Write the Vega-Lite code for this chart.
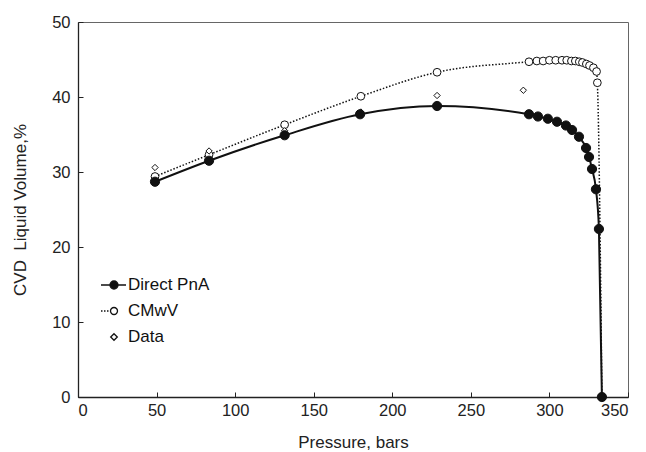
{
  "$schema": "https://vega.github.io/schema/vega-lite/v6.json",
  "autosize": {"type": "none"},
  "padding": {"left": 78, "top": 22, "right": 18, "bottom": 55},
  "width": 550,
  "height": 375,
  "config": {
    "font": "Liberation Sans",
    "view": {"stroke": "#666", "strokeWidth": 1},
    "axis": {
      "grid": false,
      "domainColor": "#222",
      "domainWidth": 1.3,
      "tickColor": "#222",
      "tickSize": -5,
      "labelFont": "Liberation Sans",
      "labelFontSize": 16.5,
      "labelColor": "#222",
      "titleFont": "Liberation Sans",
      "titleFontSize": 17,
      "titleFontWeight": "normal",
      "titleColor": "#222"
    }
  },
  "data": {
    "values": [
      {"series": "CMwV", "p": 49, "v": 29.4},
      {"series": "CMwV", "p": 83.4, "v": 32.3},
      {"series": "CMwV", "p": 131.5, "v": 36.3},
      {"series": "CMwV", "p": 180, "v": 40.1},
      {"series": "CMwV", "p": 228.5, "v": 43.3},
      {"series": "CMwV", "p": 287, "v": 44.7},
      {"series": "CMwV", "p": 292, "v": 44.8},
      {"series": "CMwV", "p": 296, "v": 44.8},
      {"series": "CMwV", "p": 300, "v": 44.9},
      {"series": "CMwV", "p": 304, "v": 44.9},
      {"series": "CMwV", "p": 308, "v": 44.9},
      {"series": "CMwV", "p": 311, "v": 44.9},
      {"series": "CMwV", "p": 314, "v": 44.8},
      {"series": "CMwV", "p": 316.5, "v": 44.8},
      {"series": "CMwV", "p": 319, "v": 44.7},
      {"series": "CMwV", "p": 321, "v": 44.6},
      {"series": "CMwV", "p": 323.5, "v": 44.4},
      {"series": "CMwV", "p": 325.5, "v": 44.2},
      {"series": "CMwV", "p": 328, "v": 43.9},
      {"series": "CMwV", "p": 330, "v": 43.4},
      {"series": "CMwV", "p": 330.5, "v": 41.9},
      {"series": "CMwV", "p": 333.4, "v": 0},
      {"series": "Data", "p": 49, "v": 30.6},
      {"series": "Data", "p": 83.4, "v": 32.8},
      {"series": "Data", "p": 131.5, "v": 35.5},
      {"series": "Data", "p": 180, "v": 38.0},
      {"series": "Data", "p": 228.5, "v": 40.2},
      {"series": "Data", "p": 283.4, "v": 40.9},
      {"series": "Direct PnA", "p": 49, "v": 28.7},
      {"series": "Direct PnA", "p": 83.4, "v": 31.5},
      {"series": "Direct PnA", "p": 131.5, "v": 34.9},
      {"series": "Direct PnA", "p": 179.5, "v": 37.7},
      {"series": "Direct PnA", "p": 228.5, "v": 38.8},
      {"series": "Direct PnA", "p": 287, "v": 37.7},
      {"series": "Direct PnA", "p": 292.7, "v": 37.4},
      {"series": "Direct PnA", "p": 299, "v": 37.1},
      {"series": "Direct PnA", "p": 304.8, "v": 36.7},
      {"series": "Direct PnA", "p": 310.5, "v": 36.2},
      {"series": "Direct PnA", "p": 314.4, "v": 35.6},
      {"series": "Direct PnA", "p": 318.8, "v": 34.7},
      {"series": "Direct PnA", "p": 323.3, "v": 33.2},
      {"series": "Direct PnA", "p": 325.2, "v": 32.0},
      {"series": "Direct PnA", "p": 327.1, "v": 30.4},
      {"series": "Direct PnA", "p": 329.6, "v": 27.7},
      {"series": "Direct PnA", "p": 331.5, "v": 22.4},
      {"series": "Direct PnA", "p": 333.4, "v": 0}
    ]
  },
  "encoding": {
    "x": {"field": "p", "type": "quantitative", "scale": {"domain": [0, 350], "nice": false}, "axis": {"values": [0, 50, 100, 150, 200, 250, 300, 350], "title": "Pressure, bars", "labelPadding": 10, "titlePadding": 16}},
    "y": {"field": "v", "type": "quantitative", "scale": {"domain": [0, 50], "nice": false}, "axis": {"values": [0, 10, 20, 30, 40, 50], "title": "CVD\u00a0 Liquid Volume,%", "labelPadding": 13, "titlePadding": 22}}
  },
  "layer": [
    {
      "transform": [{"filter": "datum.series === 'CMwV'"}],
      "mark": {"type": "line", "interpolate": "monotone", "color": "#111", "strokeWidth": 1.5, "strokeDash": [1.5, 1.8]}
    },
    {
      "transform": [{"filter": "datum.series === 'Direct PnA'"}],
      "mark": {"type": "line", "interpolate": "monotone", "color": "#111", "strokeWidth": 2}
    },
    {
      "mark": {"type": "point", "filled": true, "stroke": "#111", "strokeWidth": 1, "opacity": 1},
      "encoding": {
        "shape": {
          "condition": {"test": "datum.series === 'Data'", "value": "diamond"},
          "value": "circle"
        },
        "fill": {
          "condition": {"test": "datum.series === 'Direct PnA'", "value": "#111111"},
          "value": "#ffffff"
        },
        "size": {
          "condition": [
            {"test": "datum.series === 'Direct PnA'", "value": 85},
            {"test": "datum.series === 'CMwV'", "value": 60}
          ],
          "value": 40
        }
      }
    },
    {
      "transform": [{"filter": "datum.p < 0"}],
      "mark": {"type": "point", "filled": true, "strokeWidth": 1.5, "opacity": 1, "strokeOpacity": 1},
      "encoding": {
        "shape": {
          "field": "series", "type": "nominal",
          "scale": {
            "domain": ["Direct PnA", "CMwV", "Data"],
            "range": [
              "M-1.3,0L1.2,0M-0.4,0C-0.4,-0.221,-0.221,-0.4,0,-0.4C0.221,-0.4,0.4,-0.221,0.4,0C0.4,0.221,0.221,0.4,0,0.4C-0.221,0.4,-0.4,0.221,-0.4,0Z",
              "M-1.3,0L-1.15,0M-1.0,0L-0.85,0M-0.7,0L-0.55,0M-0.35,0C-0.35,-0.193,-0.193,-0.35,0,-0.35C0.193,-0.35,0.35,-0.193,0.35,0C0.35,0.193,0.193,0.35,0,0.35C-0.193,0.35,-0.35,0.193,-0.35,0Z",
              "M0,-0.33L0.33,0L0,0.33L-0.33,0Z"
            ]
          },
          "legend": {
            "title": null,
            "orient": "none",
            "legendX": 25,
            "legendY": 252,
            "padding": 0,
            "symbolSize": 400,
            "symbolOpacity": 1,
            "symbolStrokeColor": "#111",
            "symbolStrokeWidth": 1.3,
            "labelFontSize": 17,
            "labelColor": "#111",
            "labelOffset": 3,
            "rowPadding": 7
          }
        },
        "fill": {
          "field": "series", "type": "nominal",
          "scale": {"domain": ["Direct PnA", "CMwV", "Data"], "range": ["#111111", "#ffffff", "#ffffff"]}
        },
        "stroke": {
          "field": "series", "type": "nominal",
          "scale": {"domain": ["Direct PnA", "CMwV", "Data"], "range": ["#111111", "#111111", "#111111"]}
        }
      }
    }
  ]
}
